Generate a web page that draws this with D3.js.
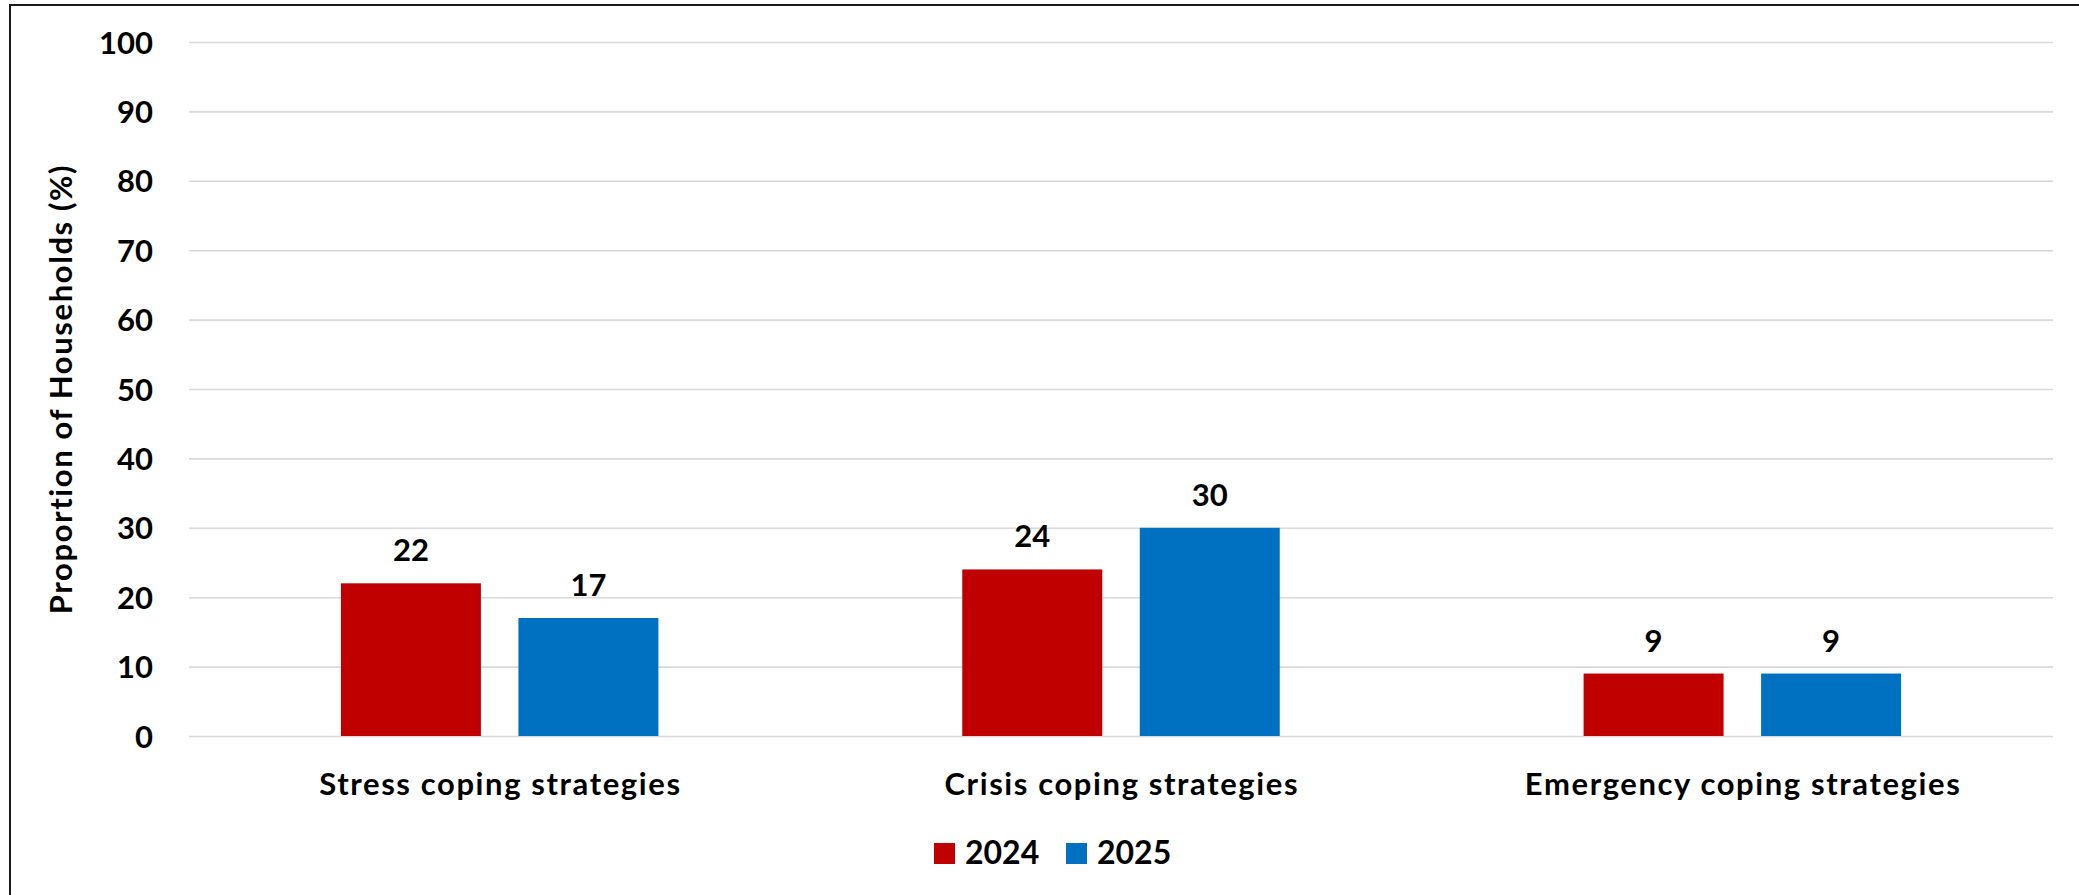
<!DOCTYPE html>
<html>
<head>
<meta charset="utf-8">
<script src="https://cdn.jsdelivr.net/npm/d3@7"></script>
<style>
  html, body { margin: 0; padding: 0; background: #ffffff; }
  svg { display: block; }
  text { font-family: Lato, "Open Sans", sans-serif; font-weight: 700; fill: #000; }
</style>
</head>
<body>
<svg id="chart" width="2079" height="895"></svg>
<script>
// Household coping strategy shares, by year
const categories = ["Stress coping strategies", "Crisis coping strategies", "Emergency coping strategies"];
const years = ["2024", "2025"];
const values2024 = [22, 24, 9];
const values2025 = [17, 30, 9];
const yTicks = [0, 10, 20, 30, 40, 50, 60, 70, 80, 90, 100];
const yTitle = "Proportion of Households (%)";

const colors = { "2024": "#C00000", "2025": "#0070C0" };
const seriesValues = { "2024": values2024, "2025": values2025 };

const svg = d3.select("#chart");
const W = 2079, H = 895;
const plot = { left: 189, right: 2053, top: 42, bottom: 736 };

// outer frame of the chart area
svg.append("rect")
  .attr("x", 10).attr("y", 5)
  .attr("width", W + 20).attr("height", H + 20)
  .attr("fill", "#fff").attr("stroke", "#1a1a1a").attr("stroke-width", 2);

const x0 = d3.scaleBand().domain(categories).range([plot.left, plot.right]).padding(0);
const x1 = d3.scaleBand().domain(years).range([0, x0.bandwidth()])
  .paddingInner(0.2113).paddingOuter(0.856);
const y = d3.scaleLinear().domain([0, 100]).range([plot.bottom, plot.top]);

// y axis with gridlines
const yAxis = svg.append("g")
  .attr("transform", `translate(${plot.left},0)`)
  .call(d3.axisLeft(y).tickValues(yTicks)
    .tickSize(-(plot.right - plot.left)).tickPadding(36));
yAxis.select(".domain").remove();
yAxis.selectAll(".tick line").attr("stroke", "#d9d9d9").attr("stroke-width", 1.6);
yAxis.selectAll(".tick text")
  .attr("font-family", "Lato, 'Open Sans', sans-serif")
  .attr("font-weight", 700)
  .attr("font-size", 31)
  .attr("fill", "#000")
  .attr("dy", "0.36em");

// bars
const rows = categories.map((c, i) => ({ cat: c, vals: years.map(yr => ({ yr, v: seriesValues[yr][i] })) }));
const groups = svg.append("g").selectAll("g").data(rows).join("g")
  .attr("transform", d => `translate(${x0(d.cat)},0)`);

groups.selectAll("rect").data(d => d.vals).join("rect")
  .attr("x", d => x1(d.yr))
  .attr("y", d => y(d.v))
  .attr("width", x1.bandwidth())
  .attr("height", d => y(0) - y(d.v))
  .attr("fill", d => colors[d.yr]);

// value labels
groups.selectAll("text.val").data(d => d.vals).join("text")
  .attr("class", "val")
  .attr("x", d => x1(d.yr) + x1.bandwidth() / 2)
  .attr("y", d => y(d.v) - 22)
  .attr("text-anchor", "middle")
  .attr("font-size", 31)
  .text(d => d.v);

// category labels
svg.append("g").selectAll("text").data(categories).join("text")
  .attr("x", d => x0(d) + x0.bandwidth() / 2 + 0.8)
  .attr("y", 795)
  .attr("text-anchor", "middle")
  .attr("font-size", 31)
  .attr("letter-spacing", 1.6)
  .text(d => d);

// y axis title
svg.append("text")
  .attr("transform", "translate(72,389) rotate(-90)")
  .attr("text-anchor", "middle")
  .attr("font-size", 31)
  .attr("letter-spacing", 1.6)
  .text(yTitle);

// legend
const legendX = [934, 1066];
const legend = svg.append("g").selectAll("g").data(years).join("g")
  .attr("transform", (d, i) => `translate(${legendX[i]},843)`);
legend.append("rect")
  .attr("width", 21).attr("height", 21)
  .attr("fill", d => colors[d]);
legend.append("text")
  .attr("x", 31).attr("y", 21)
  .attr("font-size", 32)
  .text(d => d);
</script>
</body>
</html>
